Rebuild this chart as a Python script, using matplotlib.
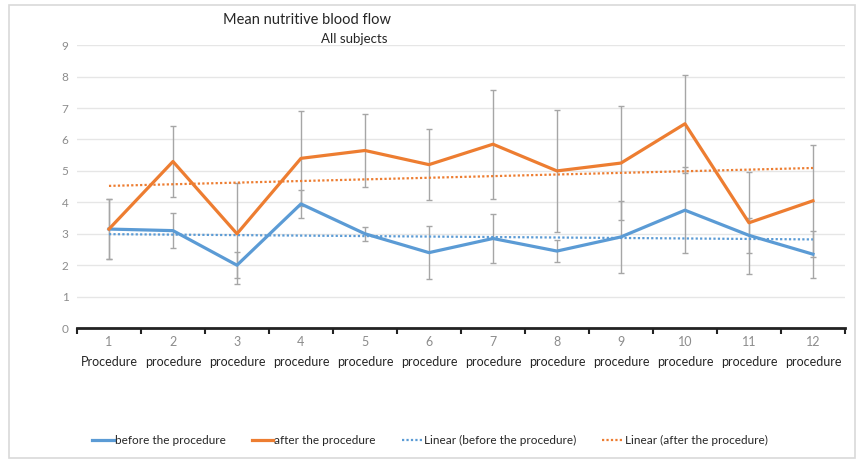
import numpy as np
import matplotlib
matplotlib.use("Agg")
import matplotlib.pyplot as plt
from matplotlib.patches import Rectangle

plt.rcParams['font.family'] = ['Lato', 'DejaVu Sans']

# data
procedures = [1, 2, 3, 4, 5, 6, 7, 8, 9, 10, 11, 12]
proc_words = ['Procedure'] + ['procedure'] * 11
before = [3.15, 3.1, 2.0, 3.95, 3.0, 2.4, 2.85, 2.45, 2.9, 3.75, 2.95, 2.35]
after = [3.15, 5.3, 3.0, 5.4, 5.65, 5.2, 5.85, 5.0, 5.25, 6.5, 3.35, 4.05]
before_err = [0.95, 0.56, 0.42, 0.45, 0.22, 0.85, 0.79, 0.35, 1.15, 1.37, 0.55, 0.75]
after_err = [0.95, 1.13, 1.6, 1.52, 1.17, 1.13, 1.73, 1.94, 1.82, 1.56, 1.63, 1.78]

blue = '#5B9BD5'
orange = '#ED7D31'
errc = '#A6A6A6'

fig = plt.figure(figsize=(8.6, 4.66), dpi=100)
fig.patches.append(Rectangle((0.010, 0.017), 0.984, 0.972, transform=fig.transFigure,
                             fill=False, edgecolor='#D9D9D9', linewidth=1.2))
ax = fig.add_axes([0.0895, 0.296, 0.893, 0.607])

x = np.array(procedures)

# error bars
ax.errorbar(x, after, yerr=after_err, fmt='none', ecolor=errc, elinewidth=1, capsize=2.5, zorder=2)
ax.errorbar(x, before, yerr=before_err, fmt='none', ecolor=errc, elinewidth=1, capsize=2.5, zorder=2)

# lines
ax.plot(x, before, color=blue, linewidth=2.3, label='before the procedure', zorder=3)
ax.plot(x, after, color=orange, linewidth=2.3, label='after the procedure', zorder=3)

# linear trendlines
pb = np.polyfit(x, before, 1)
pa = np.polyfit(x, after, 1)
ax.plot(x, np.polyval(pb, x), color=blue, linewidth=1.6, linestyle=(0, (1, 1)),
        label='Linear (before the procedure)', zorder=2.5)
ax.plot(x, np.polyval(pa, x), color=orange, linewidth=1.6, linestyle=(0, (1, 1)),
        label='Linear (after the procedure)', zorder=2.5)

ax.set_xlim(0.5, 12.5)
ax.set_ylim(0, 9)
ax.set_yticks(range(0, 10))
ax.yaxis.grid(True, color='#E6E6E6', linewidth=1)
ax.set_axisbelow(True)
for s in ['left', 'right', 'top']:
    ax.spines[s].set_visible(False)
ax.spines['bottom'].set_linewidth(2)
ax.spines['bottom'].set_color('#222222')

ax.tick_params(axis='y', length=0, labelsize=8.5, labelcolor='#8C8C8C', pad=6)
ax.set_xticks(x)
ax.set_xticklabels([str(p) for p in procedures])
ax.tick_params(axis='x', which='major', length=0, labelsize=9, labelcolor='#8C8C8C', pad=6)
ax.set_xticks(np.arange(0.5, 13, 1), minor=True)
ax.tick_params(axis='x', which='minor', length=4, width=1.5, color='#222222', direction='out')
for xi, w in zip(x, proc_words):
    ax.text(xi, -0.10, w, transform=ax.get_xaxis_transform(), ha='center', va='top',
            fontsize=9, color='#262626')

fig.text(0.357, 0.958, 'Mean nutritive blood flow', ha='center', va='center',
         fontsize=10.5, color='#262626')
fig.text(0.451, 0.917, 'All subjects', ha='right', va='center', fontsize=9.5, color='#262626')

fig.legend(loc='center', bbox_to_anchor=(0.5, 0.055), ncol=4, frameon=False,
           fontsize=8.5, handlelength=1.8, handletextpad=0.1, columnspacing=2.2,
           labelcolor='#262626')

fig.savefig('out.png', dpi=100)
